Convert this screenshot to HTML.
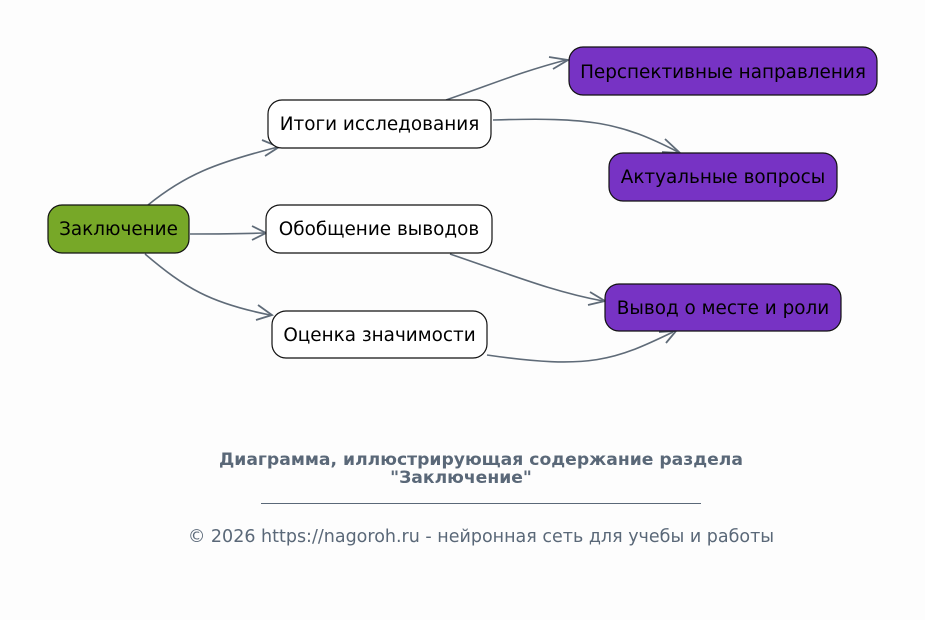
<!DOCTYPE html>
<html><head><meta charset="utf-8"><style>
html,body{margin:0;padding:0;background:#fdfdfd;}
svg{display:block;}
text{font-family:"DejaVu Sans","Liberation Sans",sans-serif;}
</style></head><body>
<svg width="925" height="620" viewBox="0 0 925 620" xmlns="http://www.w3.org/2000/svg">
<rect width="925" height="620" fill="#fdfdfd"/>
<g fill="none" stroke="#5f6b78" stroke-width="1.6">
<path d="M148,205 C185,175 215,163 278,147"/>
<path d="M190,234 C230,234 240,234 264,233"/>
<path d="M145,254 C185,288 210,303 270,315"/>
<path d="M446,100 C490,85 520,72 566,60"/>
<path d="M493,120 C590,117 620,122 678,152"/>
<path d="M450,254 C520,278 555,292 603,301"/>
<path d="M487,355 C590,370 615,360 673,332"/>
</g>
<g fill="none" stroke="#5f6b78" stroke-width="1.8" stroke-linejoin="miter">
<path d="M262,140 L279,147 L265,156"/>
<path d="M252,226 L266,233 L252,240"/>
<path d="M258,305 L272,315 L256,320"/>
<path d="M549,57 L568,60 L553,69"/>
<path d="M665,139 L680,153 L662,152"/>
<path d="M590,292 L605,301 L588,305"/>
<path d="M659,332 L676,331 L666,343"/>
</g>
<g stroke="#111" stroke-width="1.2">
<rect x="48" y="205" width="141" height="48" rx="14" fill="#77a828"/>
<rect x="268" y="100" width="223" height="48" rx="14" fill="#fff"/>
<rect x="266" y="205" width="226" height="48" rx="14" fill="#fff"/>
<rect x="272" y="311" width="215" height="47" rx="14" fill="#fff"/>
<rect x="569" y="47" width="308" height="48" rx="14" fill="#7733c4"/>
<rect x="609" y="153" width="228" height="48" rx="14" fill="#7733c4"/>
<rect x="605" y="284" width="236" height="47" rx="14" fill="#7733c4"/>
</g>
<g font-size="18.4" fill="#000" text-anchor="middle">
<text x="118.5" y="235">Заключение</text>
<text x="379.5" y="130">Итоги исследования</text>
<text x="379" y="235">Обобщение выводов</text>
<text x="379.5" y="341">Оценка значимости</text>
<text x="723" y="78">Перспективные направления</text>
<text x="723" y="183">Актуальные вопросы</text>
<text x="723" y="314">Вывод о месте и роли</text>
</g>
<g fill="#5a6878" text-anchor="middle">
<text x="481" y="465" font-size="17.2" font-weight="bold">Диаграмма, иллюстрирующая содержание раздела</text>
<text x="461" y="483" font-size="17.2" font-weight="bold">"Заключение"</text>
<line x1="261" y1="503.5" x2="701" y2="503.5" stroke="#5a6878" stroke-width="1"/>
<text x="481" y="542" font-size="17.5">© 2026 https://nagoroh.ru - нейронная сеть для учебы и работы</text>
</g>
</svg>
</body></html>
